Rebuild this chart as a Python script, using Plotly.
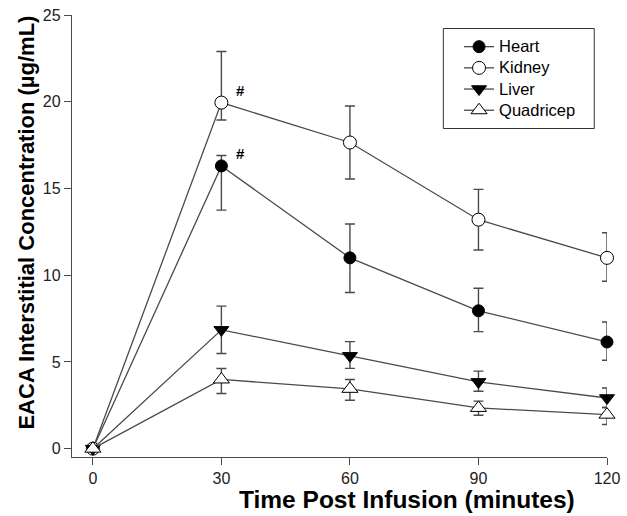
import plotly.graph_objects as go

time = [0, 30, 60, 90, 120]

heart = [0, 16.3, 11.0, 7.95, 6.15]
heart_plus = [0, 0.6, 1.95, 1.3, 1.15]
heart_minus = [0, 2.55, 2.0, 1.2, 1.05]

kidney = [0, 19.95, 17.65, 13.2, 11.0]
kidney_plus = [0, 2.95, 2.1, 1.75, 1.45]
kidney_minus = [0, 1.0, 2.1, 1.75, 1.35]

liver = [0, 6.85, 5.35, 3.85, 2.92]
liver_plus = [0, 1.37, 0.82, 0.62, 0.58]
liver_minus = [0, 1.36, 0.72, 0.54, 0.55]

quad = [0, 3.99, 3.45, 2.35, 1.96]
quad_plus = [0, 0.63, 0.54, 0.39, 0.41]
quad_minus = [0, 0.81, 0.66, 0.42, 0.57]

x_ticks = [0, 30, 60, 90, 120]
y_ticks = [0, 5, 10, 15, 20, 25]

LINE = "#4a4a4a"
FONT = "Liberation Sans, Arial, sans-serif"

series = [
    ("Heart", heart, heart_plus, heart_minus, "circle", "black", 12),
    ("Kidney", kidney, kidney_plus, kidney_minus, "circle", "white", 13),
    ("Liver", liver, liver_plus, liver_minus, "triangle-down", "black", 13),
    ("Quadricep", quad, quad_plus, quad_minus, "triangle-up", "white", 14),
]

fig = go.Figure()
for name, vals, ep, em, sym, fill, sz in series:
    fig.add_trace(go.Scatter(
        x=time, y=vals, name='<span style="font-size:16.5px">%s</span>' % name,
        mode="lines+markers",
        line=dict(color=LINE, width=1.3),
        marker=dict(symbol=sym, color=fill, size=sz,
                    line=dict(color="black", width=1)),
        error_y=dict(type="data", symmetric=False, array=ep, arrayminus=em,
                     color=LINE, thickness=1.4, width=5),
        cliponaxis=False,
    ))

# significance marks
for vals in (kidney, heart):
    fig.add_annotation(x=time[1], y=vals[1], text="<b>#</b>", showarrow=False,
                       xref="x", yref="y", xshift=19, yshift=12,
                       font=dict(family=FONT, size=15, color="black"))

fig.add_annotation(text="<b>EACA Interstitial Concentration (µg/mL)</b>",
                   xref="paper", yref="paper", x=-0.0855, y=0.531,
                   xanchor="center", yanchor="middle",
                   textangle=-90, showarrow=False,
                   font=dict(family=FONT, size=22, color="black"))
fig.add_annotation(text="<b>Time Post Infusion (minutes)</b>",
                   xref="paper", yref="paper", x=0.626, y=-0.097,
                   xanchor="center", yanchor="middle",
                   showarrow=False,
                   font=dict(family=FONT, size=24.5, color="black"))

# legend frame
fig.add_shape(type="rect", xref="paper", yref="paper",
              x0=0.6941, x1=0.9762, y0=0.7432, y1=0.9694,
              line=dict(color="#333", width=1), fillcolor="white", layer="below")

fig.update_layout(
    template="none",
    width=627, height=516,
    margin=dict(l=72, r=20, t=15, b=59, autoexpand=False),
    paper_bgcolor="white", plot_bgcolor="white",
    font=dict(family=FONT, size=14, color="black"),
    showlegend=True,
    legend=dict(x=0.7029, y=0.9637, xanchor="left", yanchor="top",
                borderwidth=0, bgcolor="rgba(0,0,0,0)",
                indentation=11,
                font=dict(family=FONT, size=14, color="black")),
    xaxis=dict(range=[-4.87, 120], tickvals=x_ticks, showgrid=False,
               automargin=False,
               zeroline=False, showline=True, linecolor=LINE, linewidth=1.4,
               ticks="outside", ticklen=7, tickcolor=LINE, tickwidth=1.4,
               tickfont=dict(size=16, color="#222")),
    yaxis=dict(range=[-0.48, 25], tickvals=y_ticks, showgrid=False,
               automargin=False,
               zeroline=False, showline=True, linecolor=LINE, linewidth=1.4,
               ticks="outside", ticklen=7, tickcolor=LINE, tickwidth=1.4,
               tickfont=dict(size=16, color="#222")),
)

fig.write_html("out.html", config={"displayModeBar": False},
               post_script="document.body.style.margin='0';document.body.style.padding='0';")
